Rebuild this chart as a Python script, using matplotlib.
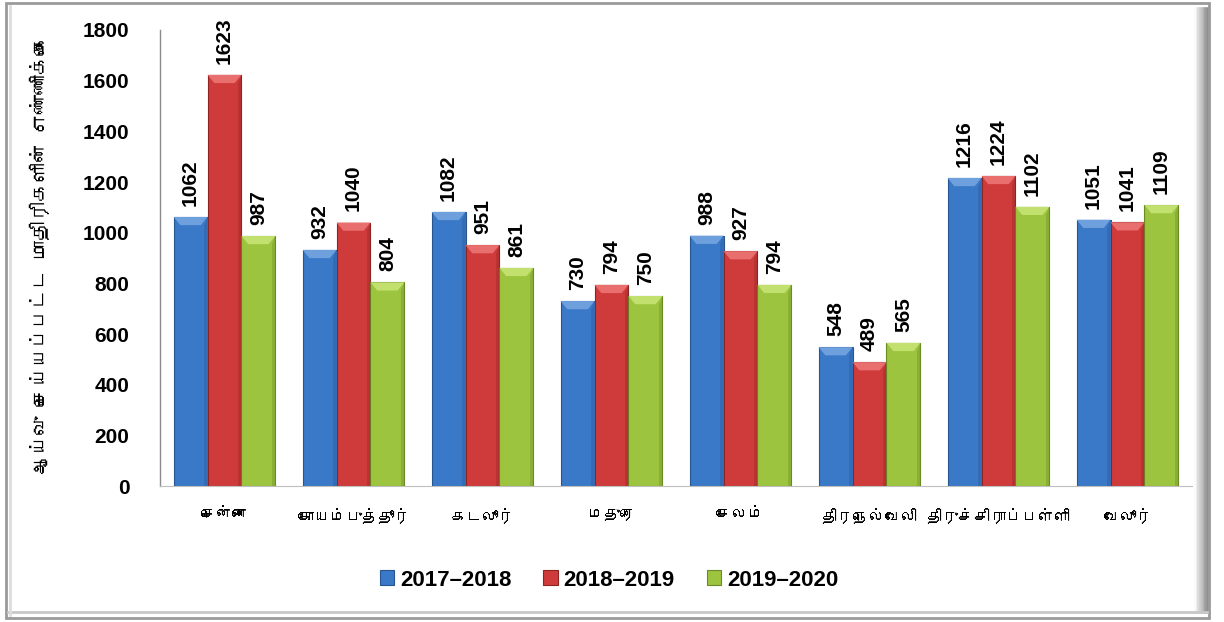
import numpy as np
import matplotlib
matplotlib.use("Agg")
import matplotlib.pyplot as plt
from matplotlib import font_manager as fm
from matplotlib.ft2font import FT2Font
from matplotlib.patches import Rectangle, Polygon
from matplotlib.lines import Line2D

categories = ["சென்னை", "கோயம்புத்தூர்", "கடலூர்", "மதுரை", "சேலம்",
              "திரநெல்வேலி", "திருச்சிராப்பள்ளி", "வேலூர்"]
series_names = ["2017–2018", "2018–2019", "2019–2020"]
v2017 = [1062, 932, 1082, 730, 988, 548, 1216, 1051]
v2018 = [1623, 1040, 951, 794, 927, 489, 1224, 1041]
v2019 = [987, 804, 861, 750, 794, 565, 1102, 1109]
yticks = [0, 200, 400, 600, 800, 1000, 1200, 1400, 1600, 1800]
ylabel = "ஆய்வு செய்யப்பட்ட மாதிரிகளின் எண்ணிக்கை"

colors = ["#3A78C8", "#CF3B3B", "#9CC43E"]
edge_colors = ["#27558F", "#8E2323", "#6A8A25"]
cap_colors = ["#6FA0DE", "#E96F6F", "#C2E06E"]


def find_font(ch):
    seen = set()
    for f in fm.fontManager.ttflist:
        if f.fname in seen:
            continue
        seen.add(f.fname)
        try:
            if FT2Font(f.fname).get_char_index(ord(ch)):
                return f.name
        except Exception:
            pass
    return None


tamil = find_font("த")
base = "Liberation Sans"
fam = [tamil, base, "DejaVu Sans"] if tamil else [base, "DejaVu Sans"]
plt.rcParams["font.family"] = [base, "DejaVu Sans"]

W, H = 1224, 622
fig = plt.figure(figsize=(W / 100, H / 100), dpi=100)
fig.patch.set_facecolor("white")


def px(x, y):
    return x / W, 1 - y / H


# frame with inner shadow on the right
for i in range(8):
    fig.add_artist(Line2D([(1195 + i * 1.7) / W] * 2, [1 - 8 / H, 1 - 612 / H],
                          color=str(0.98 - i * 0.06), lw=1.8,
                          transform=fig.transFigure, zorder=0))
fig.add_artist(Rectangle(px(6, 618), 1203 / W, 615 / H, transform=fig.transFigure,
                         fill=False, edgecolor="#9A9A9A", lw=2.0, zorder=1))
fig.add_artist(Line2D([8 / W, 1207 / W], [1 - 612 / H] * 2, color="#C8C8C8", lw=2,
                      transform=fig.transFigure, zorder=1))
fig.add_artist(Line2D([10 / W] * 2, [1 - 6 / H, 1 - 615 / H], color="#DDDDDD", lw=2,
                      transform=fig.transFigure, zorder=1))

ax = fig.add_axes([160 / W, 1 - 486 / H, (1192 - 160) / W, (486 - 30) / H])
ax.set_facecolor("none")

x = np.arange(len(categories))
bw = 0.263
all_vals = [v2017, v2018, v2019]
handles = []
for k, vals in enumerate(all_vals):
    pos = x + (k - 1) * bw
    bars = ax.bar(pos, vals, width=bw, color=colors[k], edgecolor=edge_colors[k],
                  linewidth=0.8, label=series_names[k], zorder=2)
    handles.append(bars)
    for b, v in zip(bars, vals):
        x0 = b.get_x()
        x1 = x0 + b.get_width()
        capw = b.get_width() * 0.2
        caph = 1800 * 0.018
        ax.add_patch(Polygon([[x0, v], [x1, v], [x1 - capw, v - caph], [x0 + capw, v - caph]],
                             closed=True, facecolor=cap_colors[k], edgecolor="none", zorder=3))
        ax.add_patch(Polygon([[x1 - capw * 0.5, v - caph], [x1, v], [x1, 0], [x1 - capw * 0.5, 0]],
                             closed=True, facecolor=edge_colors[k], alpha=0.35,
                             edgecolor="none", zorder=3))
        ax.annotate(str(v), (b.get_x() + b.get_width() / 2, v), xytext=(0, 8),
                    textcoords="offset points", rotation=90, ha="center", va="bottom",
                    fontsize=15, fontweight="bold", color="black", zorder=4)

ax.set_xlim(-0.5, len(categories) - 0.5)
ax.set_ylim(0, 1800)
ax.set_yticks(yticks)
ax.set_yticklabels([str(t) for t in yticks], fontsize=15, fontweight="bold")
ax.set_xticks(x)
ax.set_xticklabels(categories, fontsize=11.5, family=fam)
ax.tick_params(axis="y", length=0, pad=22)
ax.tick_params(axis="x", length=0, pad=16)
for s in ["top", "right"]:
    ax.spines[s].set_visible(False)
ax.spines["left"].set_color("#8C8C8C")
ax.spines["bottom"].set_color("#BFBFBF")
ax.spines["left"].set_linewidth(1.0)

fig.text(40 / W, 1 - 255 / H, ylabel, rotation=90, ha="center", va="center",
         fontsize=14, fontweight="bold", family=fam)

leg = fig.legend(handles=handles, labels=series_names, loc="center",
                 bbox_to_anchor=(609 / W, 1 - 580 / H), ncol=3, frameon=False,
                 prop={"size": 16, "weight": "bold"}, handlelength=0.65, handleheight=0.65,
                 handletextpad=0.25, columnspacing=1.45)

fig.savefig("out.png", dpi=100)
